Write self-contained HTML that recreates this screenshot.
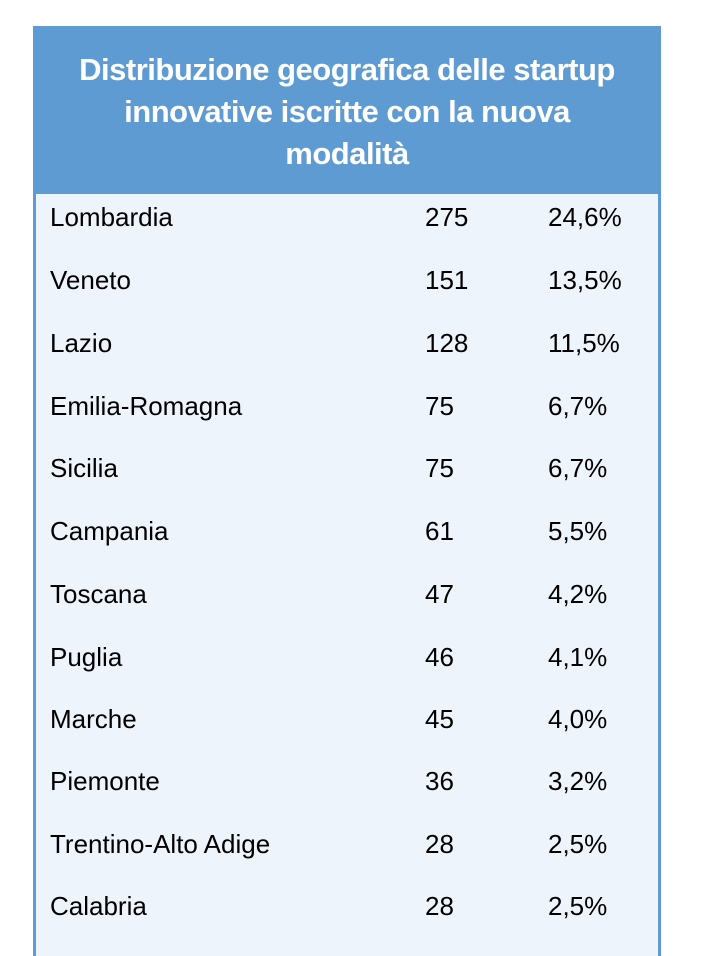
<!DOCTYPE html>
<html><head><meta charset="utf-8"><style>
body{margin:0;width:708px;height:944px;background:#fff;position:relative;overflow:hidden;font-family:"Liberation Sans",sans-serif}
.box{position:absolute;left:33px;top:26px;width:622px;height:930px;background:#eef4fb;border-left:3px solid #5f9bd3;border-right:3px solid #5f9bd3}
.hd{position:absolute;left:33px;top:26px;width:628px;height:168px;background:#5f9bd3;color:#fff;font-weight:bold;font-size:31px;line-height:42px;text-align:center;padding-top:23px;box-sizing:border-box;letter-spacing:-0.5px}
.r{position:absolute;left:0;font-size:26px;color:#000;height:30px;line-height:30px}
.r span{position:absolute;white-space:nowrap}
</style></head><body>
<div class="box"></div>
<div class="hd">Distribuzione geografica delle startup<br>innovative iscritte con la nuova<br>modalità</div>
<div class="r" style="top:202px"><span style="left:50px">Lombardia</span><span style="left:425px">275</span><span style="left:548px">24,6%</span></div>
<div class="r" style="top:265px"><span style="left:50px">Veneto</span><span style="left:425px">151</span><span style="left:548px">13,5%</span></div>
<div class="r" style="top:328px"><span style="left:50px">Lazio</span><span style="left:425px">128</span><span style="left:548px">11,5%</span></div>
<div class="r" style="top:391px"><span style="left:50px">Emilia-Romagna</span><span style="left:425px">75</span><span style="left:548px">6,7%</span></div>
<div class="r" style="top:453px"><span style="left:50px">Sicilia</span><span style="left:425px">75</span><span style="left:548px">6,7%</span></div>
<div class="r" style="top:516px"><span style="left:50px">Campania</span><span style="left:425px">61</span><span style="left:548px">5,5%</span></div>
<div class="r" style="top:579px"><span style="left:50px">Toscana</span><span style="left:425px">47</span><span style="left:548px">4,2%</span></div>
<div class="r" style="top:642px"><span style="left:50px">Puglia</span><span style="left:425px">46</span><span style="left:548px">4,1%</span></div>
<div class="r" style="top:704px"><span style="left:50px">Marche</span><span style="left:425px">45</span><span style="left:548px">4,0%</span></div>
<div class="r" style="top:766px"><span style="left:50px">Piemonte</span><span style="left:425px">36</span><span style="left:548px">3,2%</span></div>
<div class="r" style="top:829px"><span style="left:50px">Trentino-Alto Adige</span><span style="left:425px">28</span><span style="left:548px">2,5%</span></div>
<div class="r" style="top:891px"><span style="left:50px">Calabria</span><span style="left:425px">28</span><span style="left:548px">2,5%</span></div>
</body></html>
